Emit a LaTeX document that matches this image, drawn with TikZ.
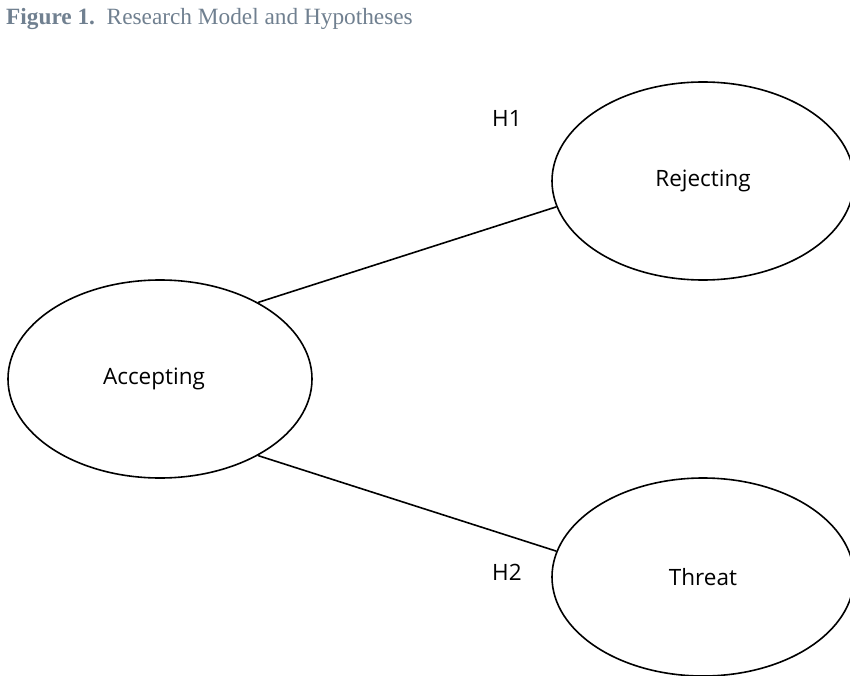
\documentclass[tikz,border=0pt]{standalone}
\usepackage{fontspec}
\setmainfont{Liberation Serif}
\newfontfamily\labelfont{Open Sans}
\usetikzlibrary{shapes.geometric}
\definecolor{titlegrey}{RGB}{112,128,144}
\begin{document}
\begin{tikzpicture}[x=1pt,y=-1pt,
  construct/.style={ellipse,draw,line width=1.6pt,inner sep=0pt,font=\labelfont\fontsize{22.5}{26}\selectfont},
  hyp/.style={anchor=base west,inner sep=0pt,font=\labelfont\fontsize{22.5}{26}\selectfont},
  link/.style={line width=1.6pt}]
\useasboundingbox (0,0) rectangle (850,676);
\node[anchor=base west,inner sep=0pt,text=titlegrey,font=\fontsize{23.3}{27}\selectfont] (title) at (6,25) {\textbf{Figure 1.}\ \ Research Model and Hypotheses};
\node[construct,minimum width=304pt,minimum height=198pt] (acc) at (160,379) {Accepting\kern12pt};
\node[construct,minimum width=302pt,minimum height=198pt] (rej) at (703,181) {Rejecting};
\node[construct,minimum width=302pt,minimum height=198pt] (thr) at (703,577) {Threat};
\draw[link] (acc.38.4) -- (rej.190.1);
\draw[link] (acc.-38.4) -- (thr.170.3);
\node[hyp] (h1) at (492,127) {H1};
\node[hyp] (h2) at (492,580) {H2};
\end{tikzpicture}
\end{document}
